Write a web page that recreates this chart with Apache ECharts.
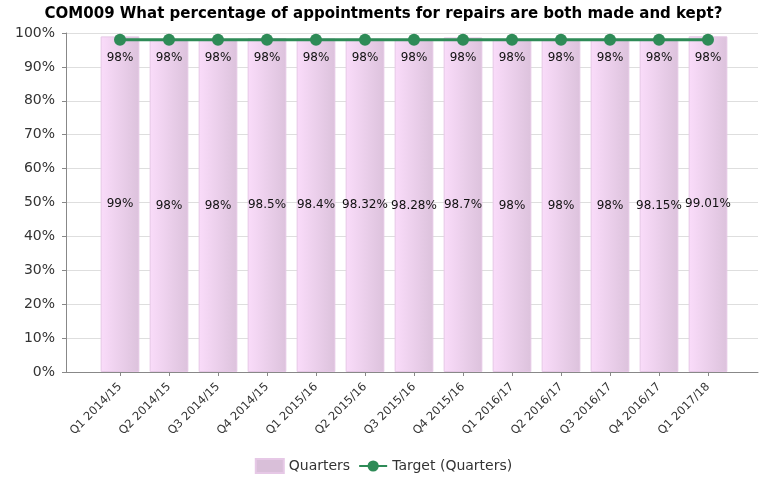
<!DOCTYPE html>
<html>
<head>
<meta charset="utf-8">
<script src="https://cdn.jsdelivr.net/npm/echarts@6/dist/echarts.min.js"></script>
<style>
  html, body { margin: 0; padding: 0; background: #fff; }
  #chart { width: 767px; height: 484px; }
</style>
</head>
<body>
<div id="chart"></div>
<script>
// Quarterly repair appointment performance
const categories = [
  'Q1 2014/15', 'Q2 2014/15', 'Q3 2014/15', 'Q4 2014/15',
  'Q1 2015/16', 'Q2 2015/16', 'Q3 2015/16', 'Q4 2015/16',
  'Q1 2016/17', 'Q2 2016/17', 'Q3 2016/17', 'Q4 2016/17',
  'Q1 2017/18'
];
const quarterValues = [99, 98, 98, 98.5, 98.4, 98.32, 98.28, 98.7, 98, 98, 98, 98.15, 99.01];
const targetValues = [98, 98, 98, 98, 98, 98, 98, 98, 98, 98, 98, 98, 98];
const yTicks = [0, 10, 20, 30, 40, 50, 60, 70, 80, 90, 100];

const FONT = 'DejaVu Sans';
const chart = echarts.init(document.getElementById('chart'));

const barGradient = new echarts.graphic.LinearGradient(0, 0, 1, 0, [
  { offset: 0, color: '#fadcfa' },
  { offset: 1, color: '#dcc2dc' }
]);

chart.setOption({
  animation: false,
  textStyle: { fontFamily: FONT },
  title: {
    text: 'COM009 What percentage of appointments for repairs are both made and kept?',
    left: 'center',
    top: 2,
    textStyle: { fontFamily: FONT, fontSize: 15, fontWeight: 'bold', color: '#000' }
  },
  legend: {
    bottom: 5,
    left: 'center',
    itemGap: 8,
    itemWidth: 28,
    itemHeight: 14,
    textStyle: { fontFamily: FONT, fontSize: 14, color: '#333' },
    data: [
      { name: 'Quarters', icon: 'rect', itemStyle: { color: '#d9bfd9' } },
      { name: 'Target (Quarters)' }
    ]
  },
  grid: [
    // frame with value axis and gridlines
    { left: 66, right: 9, top: 33, bottom: 112, containLabel: false },
    // category band holding the marks
    { left: 95.5, width: 637, top: 33, bottom: 112, containLabel: false }
  ],
  xAxis: [
    {
      gridIndex: 0,
      type: 'value',
      min: 0, max: 1,
      axisLine: { show: true, lineStyle: { color: '#888', width: 1 } },
      axisTick: { show: false },
      axisLabel: { show: false },
      splitLine: { show: false }
    },
    {
      gridIndex: 1,
      type: 'category',
      data: categories,
      axisLine: { show: false },
      axisTick: { show: true, alignWithLabel: true, length: 4, lineStyle: { color: '#888' } },
      axisLabel: {
        interval: 0,
        rotate: 45,
        margin: 13,
        fontFamily: FONT,
        fontSize: 11.5,
        color: '#333'
      }
    }
  ],
  yAxis: [
    {
      gridIndex: 0,
      type: 'value',
      min: 0, max: 100, interval: 10,
      axisLine: { show: true, lineStyle: { color: '#888', width: 1 } },
      axisTick: { show: true, length: 4, lineStyle: { color: '#888' } },
      axisLabel: {
        margin: 11,
        fontFamily: FONT,
        fontSize: 14,
        color: '#333',
        formatter: v => yTicks.includes(v) ? v + '%' : ''
      },
      splitLine: { show: true, lineStyle: { color: '#dedede', width: 1 } }
    },
    {
      gridIndex: 1,
      type: 'value',
      min: 0, max: 100, interval: 10,
      show: false
    }
  ],
  series: [
    {
      name: 'Quarters',
      type: 'bar',
      xAxisIndex: 1,
      yAxisIndex: 1,
      data: quarterValues,
      barWidth: '79%',
      itemStyle: { color: barGradient, borderColor: '#e6c8e6', borderWidth: 1 },
      label: {
        show: true,
        position: 'inside',
        fontFamily: FONT,
        fontSize: 12,
        color: '#111',
        formatter: p => p.value + '%'
      },
      z: 2
    },
    {
      name: 'Target (Quarters)',
      type: 'line',
      xAxisIndex: 1,
      yAxisIndex: 1,
      data: targetValues,
      symbol: 'circle',
      symbolSize: 12,
      lineStyle: { color: '#2e8b57', width: 3 },
      itemStyle: { color: '#2e8b57' },
      label: {
        show: true,
        position: 'bottom',
        distance: 6,
        fontFamily: FONT,
        fontSize: 12,
        color: '#111',
        formatter: p => p.value + '%'
      },
      z: 3
    }
  ]
});
</script>
</body>
</html>
